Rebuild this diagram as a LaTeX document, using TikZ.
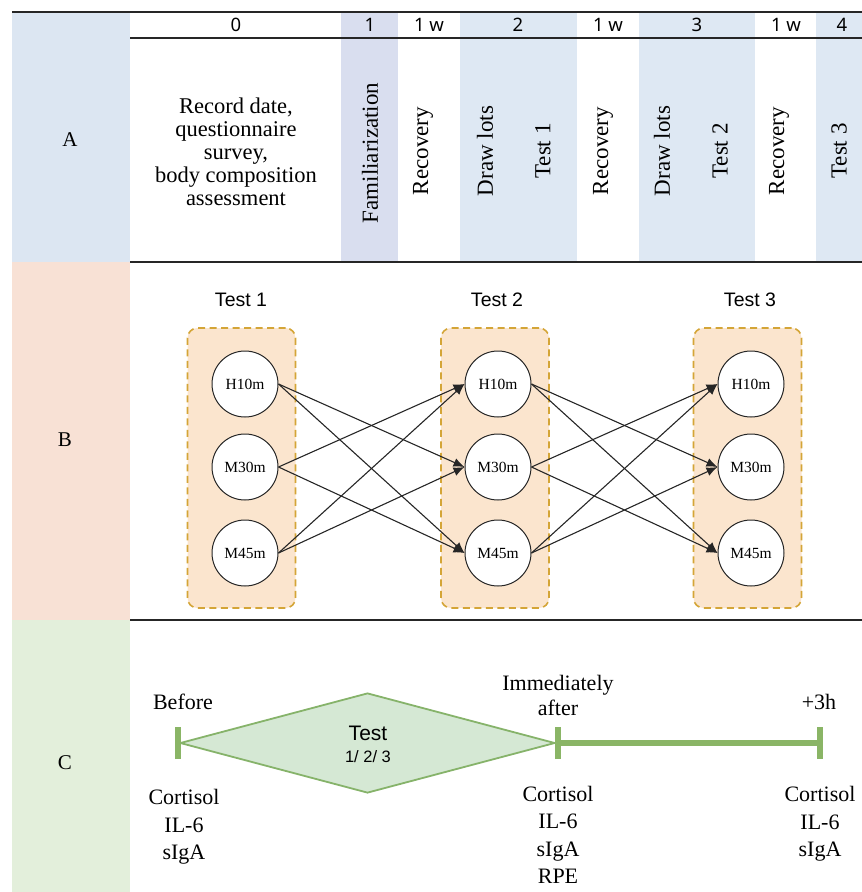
\documentclass[tikz,border=0pt]{standalone}
\usepackage{fontspec}
\setmainfont{Liberation Serif}
\setsansfont{Liberation Sans}
\newfontfamily\hdrfont{Noto Sans}
\usetikzlibrary{arrows.meta,shapes.geometric}

\definecolor{colA}{HTML}{DCE6F2}
\definecolor{colB}{HTML}{F8E1D5}
\definecolor{colC}{HTML}{E3EFDB}
\definecolor{famfill}{HTML}{D9DEEF}
\definecolor{testfill}{HTML}{DEE8F3}
\definecolor{grpfill}{HTML}{FBE5CE}
\definecolor{grpline}{HTML}{D4A537}
\definecolor{dmfill}{HTML}{D5E8D4}
\definecolor{dmline}{HTML}{86B36A}
\definecolor{tlgreen}{HTML}{8AB566}

\tikzset{
  rule/.style={line width=1.8pt, black!85},
  hdr/.style={font=\hdrfont\fontsize{18.5}{22}\selectfont, inner sep=0pt},
  rowlbl/.style={font=\fontsize{21}{24}\selectfont, inner sep=0pt},
  bodytxt/.style={font=\fontsize{22.5}{23}\selectfont, align=center, inner sep=0pt},
  vtxt/.style={font=\fontsize{23}{24}\selectfont, rotate=90, inner sep=0pt},
  title/.style={font=\sffamily\fontsize{19.5}{22}\selectfont, inner sep=0pt},
  grp/.style={draw=grpline, fill=grpfill, line width=1.6pt, dash pattern=on 7pt off 4.5pt,
              rounded corners=10pt, minimum width=108pt, minimum height=280pt, inner sep=0pt},
  circ/.style={circle, draw=black!85, line width=1pt, fill=white, minimum size=66pt,
               inner sep=0pt, font=\fontsize{15.5}{17}\selectfont},
  link/.style={-{Latex[length=11pt,width=9pt]}, line width=1.1pt, draw=black!85},
  ctxt/.style={font=\fontsize{22}{27.5}\selectfont, align=center, inner sep=0pt},
  dmtxt/.style={font=\sffamily, inner sep=0pt},
  tick/.style={line width=6pt, tlgreen},
}

\begin{document}
\begin{tikzpicture}[x=1pt,y=-1pt]
\useasboundingbox (0,0) rectangle (862,892);

% ---- left label column ----
\fill[colA] (12,12) rectangle (130,262);
\fill[colB] (12,262) rectangle (130,620);
\fill[colC] (12,620) rectangle (130,892);
\node[rowlbl] (lA) at (70,140) {A};
\node[rowlbl] (lB) at (65,440) {B};
\node[rowlbl] (lC) at (65,763) {C};

% ---- A: schedule columns ----
\fill[famfill]  (341,12) rectangle (398,262);
\fill[testfill] (460,12) rectangle (577,262);
\fill[testfill] (639,12) rectangle (755,262);
\fill[testfill] (816,12) rectangle (862,262);

\draw[rule] (12,12) -- (862,12);
\draw[rule] (130,38) -- (862,38);
\draw[rule] (130,262) -- (862,262);
\draw[rule] (130,620) -- (862,620);

\node[hdr] (h0) at (236,25) {0};
\node[hdr] (h1) at (370,25) {1};
\node[hdr] (h1w) at (429,25) {1 w};
\node[hdr] (h2) at (518,25) {2};
\node[hdr] (h2w) at (608,25) {1 w};
\node[hdr] (h3) at (697,25) {3};
\node[hdr] (h3w) at (786,25) {1 w};
\node[hdr] (h4) at (842,25) {4};

\node[bodytxt] (rec) at (236,152) {Record date,\\questionnaire\\survey,\\body composition\\assessment};
\node[vtxt] (fam) at (370,153) {Familiarization};
\node[vtxt] (rv1) at (423,151) {Recovery};
\node[vtxt] (dl1) at (485,151) {Draw lots};
\node[vtxt] (ts1) at (543,151) {Test 1};
\node[vtxt] (rv2) at (603,151) {Recovery};
\node[vtxt] (dl2) at (662,151) {Draw lots};
\node[vtxt] (ts2) at (720,151) {Test 2};
\node[vtxt] (rv3) at (779,151) {Recovery};
\node[vtxt] (ts3) at (839,151) {Test 3};

% ---- B: crossover of test sessions ----
\node[title] (t1) at (241,300) {Test 1};
\node[title] (t2) at (497,300) {Test 2};
\node[title] (t3) at (750,300) {Test 3};

\node[grp] (g1) at (241.5,468) {};
\node[grp] (g2) at (495,468) {};
\node[grp] (g3) at (747.5,468) {};

\foreach \c/\x in {a/245, b/498, c/751}{
  \node[circ] (\c H) at (\x,384) {H10m};
  \node[circ] (\c M) at (\x,467) {M30m};
  \node[circ] (\c L) at (\x,553) {M45m};
}

\foreach \s/\d in {a/b, b/c}{
  \draw[link] (\s H.east) -- (\d M.west);
  \draw[link] (\s H.east) -- (\d L.west);
  \draw[link] (\s M.east) -- (\d H.west);
  \draw[link] (\s M.east) -- (\d L.west);
  \draw[link] (\s L.east) -- (\d H.west);
  \draw[link] (\s L.east) -- (\d M.west);
}

% ---- C: sampling timeline ----
\coordinate (p0) at (178,743);
\coordinate (p1) at (558,743);
\coordinate (p2) at (820,743);

\node[diamond, draw=dmline, fill=dmfill, line width=1.8pt, minimum width=375pt,
      minimum height=100pt, inner sep=0pt] (dm) at (367.5,743) {};
\node[dmtxt, font=\sffamily\fontsize{21}{24}\selectfont] (dmt) at (368,733) {Test};
\node[dmtxt, font=\sffamily\fontsize{16.5}{19}\selectfont] (dmn) at (368,757) {1/ 2/ 3};

\draw[tlgreen, line width=6pt] (p1) -- (p2);
\draw[tick] ([yshift=-16pt]p0) -- ([yshift=16pt]p0);
\draw[tick] ([yshift=-16pt]p1) -- ([yshift=16pt]p1);
\draw[tick] ([yshift=-16pt]p2) -- ([yshift=16pt]p2);

\node[ctxt] (bef) at (183,702) {Before};
\node[ctxt, font=\fontsize{22}{25}\selectfont] (imm) at (558,695) {Immediately\\after};
\node[ctxt] (plus) at (819,702) {+3h};

\node[ctxt] (m0) at (184,827) {Cortisol\\IL-6\\sIgA};
\node[ctxt] (m1) at (558,835) {Cortisol\\IL-6\\sIgA\\RPE};
\node[ctxt] (m2) at (820,824) {Cortisol\\IL-6\\sIgA};
\end{tikzpicture}
\end{document}
